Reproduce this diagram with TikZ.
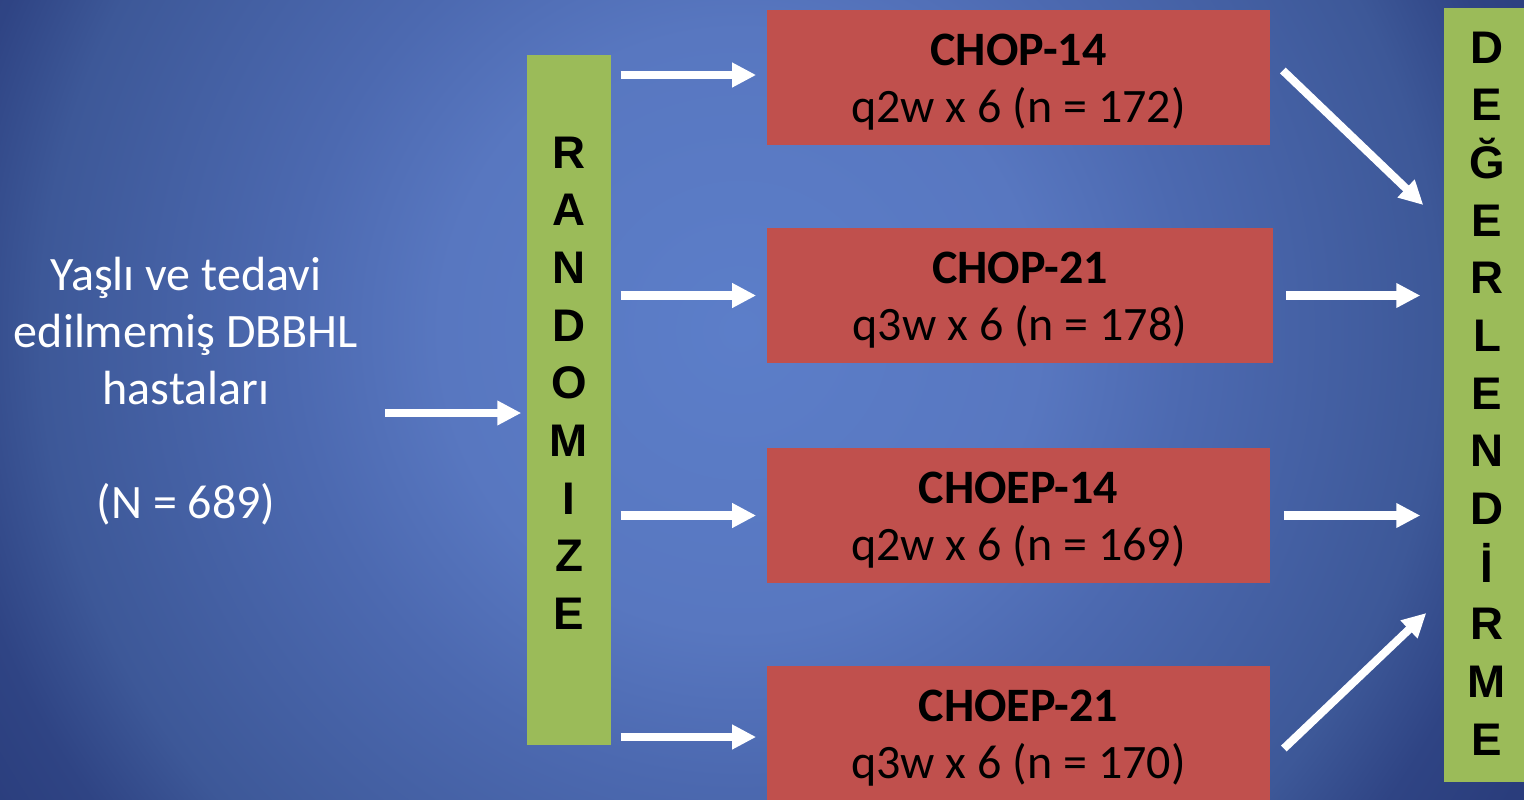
\documentclass[tikz,border=0pt]{standalone}
\usepackage{fontspec}
\setmainfont{Carlito}
\newfontfamily\arialfont{Liberation Sans}
\usetikzlibrary{arrows.meta,calc}
\definecolor{bgin}{HTML}{5C7EC9}
\definecolor{bgmid}{HTML}{5877C0}
\definecolor{bgmidb}{HTML}{4C69B0}
\definecolor{bgmidc}{HTML}{3D5898}
\definecolor{bgmidd}{HTML}{2F4484}
\definecolor{bgout}{HTML}{2A3D7C}
\definecolor{boxgreen}{HTML}{9BBB59}
\definecolor{boxred}{HTML}{C0504D}
% in path shading, 25bp corresponds to the path's half-size (radius)
\pgfdeclareradialshading{bgshade}{\pgfpoint{0bp}{0bp}}{color(0bp)=(bgin); color(6.8bp)=(bgmid); color(10.2bp)=(bgmidb); color(15.9bp)=(bgmidc); color(18.2bp)=(bgmidd); color(20.5bp)=(bgout); color(25bp)=(bgout); color(50bp)=(bgout)}
\tikzset{
  greenbox/.style={fill=boxgreen, draw=none, inner sep=0pt},
  redbox/.style={fill=boxred, draw=none, inner sep=0pt, minimum width=5.03cm, minimum height=1.35cm},
  redtext/.style={align=center, text=black, inner sep=0pt, font=\fontsize{13.65}{16.2}\selectfont},
  vletters/.style={align=center, text=black, inner sep=0pt, font=\arialfont\bfseries\fontsize{13}{16.4}\selectfont},
  leftlabel/.style={align=center, text=white, inner sep=0pt, font=\fontsize{13.65}{16.2}\selectfont},
  arr/.style={draw=white, line width=2.3pt, -{Triangle[length=6.8pt,width=6.6pt]}},
}
\begin{document}
\begin{tikzpicture}[x=0.01cm,y=-0.01cm]
\useasboundingbox (0,0) rectangle (1524,800);
\begin{scope}
\clip (0,0) rectangle (1524,800);
\shade[shading=bgshade] (740,330) circle[radius=1100];

% left text
\node[leftlabel] (src) at (186,391) {Yaşlı ve tedavi\\edilmemiş DBBHL\\hastaları\\[16.2pt](N = 689)};
\coordinate (srcend) at (385,413);

% randomize box
\node[greenbox, minimum width=0.84cm, minimum height=6.9cm] (rand) at (569,400) {};
\node[vletters] (randtxt) at (569,383) {R\\A\\N\\D\\O\\M\\I\\Z\\E};

% treatment boxes
\node[redbox] (b1) at (1018.5,77.5) {};
\node[redbox, minimum width=5.06cm] (b2) at (1020,295.5) {};
\node[redbox] (b3) at (1018.5,515.5) {};
\node[redbox] (b4) at (1018.5,733.5) {};
\node[redtext] (b1txt) at ([yshift=-0.05cm]b1) {\textbf{CHOP-14}\\q2w x 6 (n = 172)};
\node[redtext] (b2txt) at ([yshift=-0.05cm]b2) {\textbf{CHOP-21}\\q3w x 6 (n = 178)};
\node[redtext] (b3txt) at ([yshift=-0.05cm]b3) {\textbf{CHOEP-14}\\q2w x 6 (n = 169)};
\node[redtext] (b4txt) at ([yshift=-0.05cm]b4) {\textbf{CHOEP-21}\\q3w x 6 (n = 170)};

% evaluation box
\node[greenbox, minimum width=0.8cm, minimum height=7.74cm] (deg) at (1484,395) {};
\node[vletters] (degtxt) at (1487,393.5) {D\\E\\Ğ\\E\\R\\L\\E\\N\\D\\İ\\R\\M\\E};

% arrows
\draw[arr] (srcend) -- ($(rand.west)+(-5,13)$);
\draw[arr, shorten <=9*0.01cm, shorten >=10*0.01cm] (rand.east |- 0,75) -- (b1.west |- 0,75);
\draw[arr, shorten <=9*0.01cm, shorten >=10*0.01cm] (rand.east |- b2.west) -- (b2.west);
\draw[arr, shorten <=9*0.01cm, shorten >=10*0.01cm] (rand.east |- b3.west) -- (b3.west);
\draw[arr, shorten <=9*0.01cm, shorten >=10*0.01cm] (rand.east |- 0,737) -- (b4.west |- 0,737);

\draw[arr] ($(b1.east)+(12,-7)$) -- ($(deg.west)+(-20,-190)$);
\draw[arr, shorten <=12*0.01cm, shorten >=23*0.01cm] (b2.east) -- (deg.west |- b2.east);
\draw[arr, shorten <=13*0.01cm, shorten >=23*0.01cm] (b3.east) -- (deg.west |- b3.east);
\draw[arr] ($(b4.east)+(13,15)$) -- ($(deg.west)+(-17,218)$);
\end{scope}
\end{tikzpicture}
\end{document}
